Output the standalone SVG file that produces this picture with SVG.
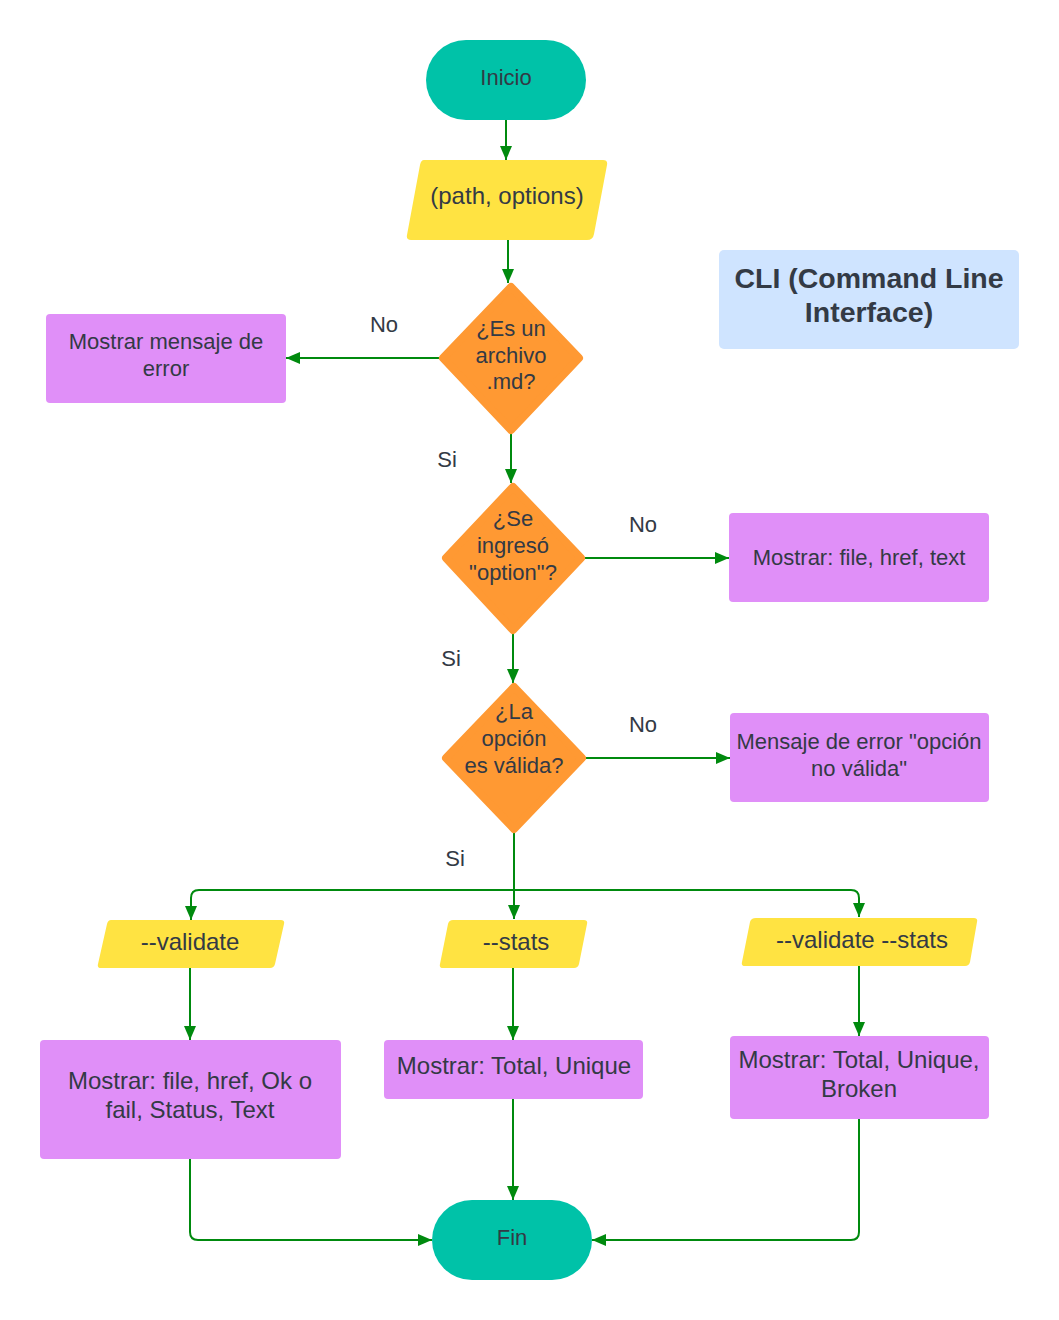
<svg xmlns="http://www.w3.org/2000/svg" width="1059" height="1320" viewBox="0 0 1059 1320">
<defs>
<style>
.t{font-family:"Liberation Sans",Arial,sans-serif;fill:#333a45;text-anchor:middle}
.s22{font-size:22px}
.s24{font-size:24px}
.b{font-size:28.5px;font-weight:bold}
.term{fill:#00c2a8}
.io{fill:#ffe342}
.dec{fill:#ff9933;stroke:#ff9933;stroke-width:8;stroke-linejoin:round}
.proc{fill:#e08ff8}
.note{fill:#cfe4ff}
.c{fill:none;stroke:#008a0e;stroke-width:2;marker-end:url(#ah)}
</style>
<marker id="ah" viewBox="0 0 14 12" refX="14" refY="6" markerWidth="14" markerHeight="12" markerUnits="userSpaceOnUse" orient="auto">
<path d="M0 0 L14 6 L0 12 Z" fill="#008a0e"/>
</marker>
</defs>
<rect width="1059" height="1320" fill="#ffffff"/>

<g id="connectors">
<path class="c" d="M506 120 V160"/>
<path class="c" d="M508 240 V283"/>
<path class="c" d="M439 358 H286"/>
<path class="c" d="M511 434 V483"/>
<path class="c" d="M585 558 H729"/>
<path class="c" d="M513 634 V683"/>
<path class="c" d="M586 758 H730"/>
<path class="c" d="M514 833 V919"/>
<path class="c" d="M514 890 H199 Q191 890 191 898 V920"/>
<path class="c" d="M514 890 H851 Q859 890 859 898 V917"/>
<path class="c" d="M190 968 V1040"/>
<path class="c" d="M513 968 V1040"/>
<path class="c" d="M859 966 V1036"/>
<path class="c" d="M190 1159 V1232 Q190 1240 198 1240 H432"/>
<path class="c" d="M513 1099 V1200"/>
<path class="c" d="M859 1119 V1232 Q859 1240 851 1240 H592"/>
<text class="t s22" x="384" y="332">No</text>
<text class="t s22" x="447" y="467">Si</text>
<text class="t s22" x="643" y="532">No</text>
<text class="t s22" x="451" y="666">Si</text>
<text class="t s22" x="643" y="732">No</text>
<text class="t s22" x="455" y="866">Si</text>
</g>

<g id="inicio">
<rect class="term" x="426" y="40" width="160" height="80" rx="40"/>
<text class="t s22" x="506" y="85">Inicio</text>
</g>

<g id="input">
<path class="io" d="M424 160 H603 Q608 160 607 165 L594 234 Q593 240 587 240 H411 Q406 240 407 235 L420 165 Q421 160 424 160 Z"/>
<text class="t s24" x="507" y="204">(path, options)</text>
</g>

<g id="cli">
<rect class="note" x="719" y="250" width="300" height="99" rx="5"/>
<text class="t b" x="869" y="288">CLI (Command Line</text>
<text class="t b" x="869" y="322">Interface)</text>
</g>

<g id="dec1">
<polygon class="dec" points="511,287 579,358 511,430 443,358"/>
<text class="t s22" x="511" y="336">¿Es un</text>
<text class="t s22" x="511" y="363">archivo</text>
<text class="t s22" x="511" y="389">.md?</text>
</g>

<g id="err1">
<rect class="proc" x="46" y="314" width="240" height="89" rx="4"/>
<text class="t s22" x="166" y="349">Mostrar mensaje de</text>
<text class="t s22" x="166" y="376">error</text>
</g>

<g id="dec2">
<polygon class="dec" points="513,487 581,558 513,630 446,558"/>
<text class="t s22" x="513" y="526">¿Se</text>
<text class="t s22" x="513" y="553">ingresó</text>
<text class="t s22" x="513" y="580">"option"?</text>
</g>

<g id="show1">
<rect class="proc" x="729" y="513" width="260" height="89" rx="4"/>
<text class="t s22" x="859" y="565">Mostrar: file, href, text</text>
</g>

<g id="dec3">
<polygon class="dec" points="514,687 582,758 514,829 446,758"/>
<text class="t s22" x="514" y="719">¿La</text>
<text class="t s22" x="514" y="746">opción</text>
<text class="t s22" x="514" y="773">es válida?</text>
</g>

<g id="err2">
<rect class="proc" x="730" y="713" width="259" height="89" rx="4"/>
<text class="t s22" x="859" y="749">Mensaje de error "opción</text>
<text class="t s22" x="859" y="776">no válida"</text>
</g>

<g id="validate">
<path class="io" d="M111 920 H281 Q285 920 284 924 L275 964 Q274 968 270 968 H101 Q97 968 98 964 L107 924 Q108 920 111 920 Z"/>
<text class="t s24" x="190" y="950">--validate</text>
</g>

<g id="stats">
<path class="io" d="M453 920 H584 Q588 920 587 924 L579 964 Q578 968 574 968 H443 Q439 968 440 964 L448 924 Q449 920 453 920 Z"/>
<text class="t s24" x="516" y="950">--stats</text>
</g>

<g id="valstats">
<path class="io" d="M756 918 H974 Q978 918 977 922 L970 962 Q969 966 965 966 H745 Q741 966 742 962 L750 922 Q751 918 756 918 Z"/>
<text class="t s24" x="862" y="948">--validate --stats</text>
</g>

<g id="showA">
<rect class="proc" x="40" y="1040" width="301" height="119" rx="4"/>
<text class="t s24" x="190" y="1089">Mostrar: file, href, Ok o</text>
<text class="t s24" x="190" y="1118">fail, Status, Text</text>
</g>

<g id="showB">
<rect class="proc" x="384" y="1040" width="259" height="59" rx="4"/>
<text class="t s24" x="514" y="1074">Mostrar: Total, Unique</text>
</g>

<g id="showC">
<rect class="proc" x="730" y="1036" width="259" height="83" rx="4"/>
<text class="t s24" x="859" y="1068">Mostrar: Total, Unique,</text>
<text class="t s24" x="859" y="1097">Broken</text>
</g>

<g id="fin">
<rect class="term" x="432" y="1200" width="160" height="80" rx="40"/>
<text class="t s22" x="512" y="1245">Fin</text>
</g>
</svg>
